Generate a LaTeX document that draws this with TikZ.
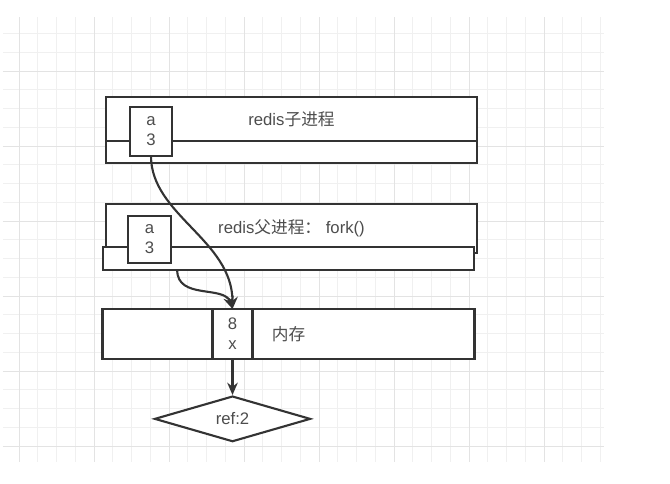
\documentclass[tikz,border=0pt]{standalone}
\usepackage{fontspec}
\setmainfont{Liberation Sans}
\newfontfamily\cjk{Noto Sans CJK SC}
\usetikzlibrary{calc,arrows.meta,positioning,shapes.geometric}
\definecolor{inkline}{HTML}{333333}
\definecolor{inktext}{HTML}{4D4D4D}
\tikzset{
  procbox/.style={draw=inkline, fill=white, rectangle, line width=1.2pt, outer sep=0pt, inner sep=0pt, minimum width=7.42cm, align=center, text=inktext},
  varbox/.style={draw=inkline, fill=white, rectangle, line width=1.2pt, outer sep=0pt, inner sep=0pt, align=center, text=inktext},
  refnode/.style={draw=inkline, fill=white, diamond, aspect=1, line width=1.2pt, inner sep=0pt, minimum width=3.12cm, minimum height=0.9cm, text=inktext},
  gridline/.style={draw=black!6, line width=0.4pt},
  gridmajor/.style={draw=black!11, line width=0.4pt},
  link/.style={draw=inkline, line width=1.2pt, -{Stealth[length=7pt,width=6pt]}}
}
\begin{document}
\begin{tikzpicture}[font=\fontsize{9.5}{11.3}\selectfont]
  \useasboundingbox (0,0) rectangle (13.4,9.68);
  % background grid
  \foreach \k in {0,...,31} {
    \pgfmathsetmacro\gx{0.378+0.375*\k}
    \draw [gridline] (\gx,0.44) -- (\gx,9.34);
  }
  \foreach \m in {0,...,22} {
    \pgfmathsetmacro\gy{9.01-0.375*\m}
    \draw [gridline] (0.06,\gy) -- (12.08,\gy);
  }
  \foreach \k in {0,4,...,28} {
    \pgfmathsetmacro\gx{0.378+0.375*\k}
    \draw [gridmajor] (\gx,0.44) -- (\gx,9.34);
  }
  \foreach \m in {2,6,...,22} {
    \pgfmathsetmacro\gy{9.01-0.375*\m}
    \draw [gridmajor] (0.06,\gy) -- (12.08,\gy);
  }

  % child process
  \node [procbox, minimum height=0.88cm] (childtop) at (5.83,7.30) {redis{\cjk 子进程}};
  \node [procbox, minimum height=0.44cm, below=0cm of childtop] (childbot) {};
  \node [varbox, minimum width=0.84cm, minimum height=0.98cm, below right=0.2cm and 0.48cm of childtop.north west] (childvar) {a\\3};

  % parent process
  \node [procbox, minimum height=0.98cm, below=0.82cm of childbot] (parenttop) {redis{\cjk 父进程：} fork()};
  \node [procbox, minimum height=0.46cm, anchor=north west] (parentbot) at ([shift={(-0.06,0.12)}]parenttop.south west) {};
  \node [varbox, minimum width=0.86cm, minimum height=0.94cm, below right=0.24cm and 0.44cm of parenttop.north west] (parentvar) {a\\3};

  % memory
  \node [procbox, minimum width=7.44cm, minimum height=1.0cm, below=0.78cm of parentbot] (mem) {\cjk 内存};
  \node [varbox, minimum width=0.8cm, minimum height=1.0cm, right=2.2cm of mem.west] (memvar) {8\\x};
  \node [refnode, below=0.72cm of memvar] (ref) {ref:2};

  \coordinate (forkout) at ($(parentbot.south west)!0.2!(parentbot.south east)$);
  \draw [link] (childvar.south) .. controls +(0,-1.18) and +(0,1.38) .. (memvar.north);
  \draw [link] (forkout) .. controls +(0,-0.6) and +(-0.16,0.48) .. (memvar.north);
  \draw [link] (memvar) -- (ref);
\end{tikzpicture}
\end{document}
